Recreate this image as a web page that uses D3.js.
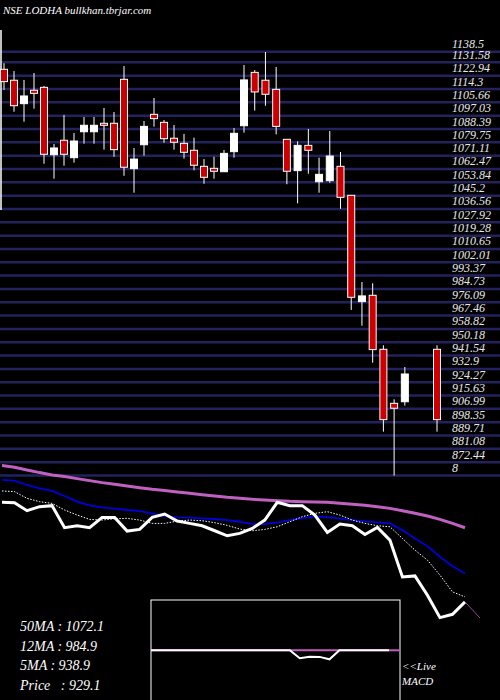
<!DOCTYPE html>
<html><head><meta charset="utf-8">
<script src="https://cdn.jsdelivr.net/npm/d3@7"></script>
<style>body{margin:0;background:#000}svg{display:block}</style>
</head><body><div id="chart"></div>
<script>
// candles: open, high, low, close (null = no trade that slot)
const opens  = [1127.1,1120.0,1104.8,1113.5,1115.4,1071.7,1081.1,1069.8,1086.6,1086.6,1092.1,1092.1,1120.6,1062.7,1078.2,1097.9,1092.7,1082.4,1079.1,1074.6,1064.2,1062.9,1060.7,1073.7,1090.5,1125.1,1120.0,1114.1,1081.7,1061.4,1077.8,1054.2,1054.9,1064.2,1045.4,976.5,980.6,945.6,910.6,911.6,null,null,945.6]
const highs  = [1131.0,1126.0,1120.2,1124.7,1116.3,1078.7,1097.5,1085.8,1096.2,1096.2,1102.0,1099.4,1129.2,1076.1,1093.6,1108.5,1094.2,1091.0,1085.2,1082.8,1068.9,1070.4,1074.8,1089.0,1129.9,1126.6,1138.3,1128.6,1081.9,1080.4,1088.4,1069.8,1087.1,1073.5,1045.6,989.2,988.4,948.2,913.2,934.1,null,null,948.2]
const lows   = [1113.7,1099.6,1093.1,1101.6,1065.9,1056.2,1064.6,1066.6,1078.9,1078.9,1075.0,1070.4,1058.1,1047.1,1071.1,1089.9,1079.5,1075.0,1069.2,1061.6,1052.9,1056.2,1060.7,1069.8,1086.0,1100.3,1103.5,1084.9,1052.6,1040.2,1059.4,1047.1,1053.5,1036.7,971.1,960.9,936.9,892.2,863.7,909.1,null,null,892.2]
const closes = [1119.1,1103.5,1109.8,1111.5,1072.0,1076.1,1072.0,1080.6,1090.8,1090.8,1090.8,1075.0,1063.6,1068.9,1090.1,1095.1,1082.1,1079.8,1073.3,1064.9,1057.1,1061.0,1072.6,1085.6,1120.2,1112.4,1110.9,1090.1,1061.0,1077.8,1074.6,1059.0,1070.9,1044.1,979.3,980.2,945.4,900.0,907.4,929.6,null,null,900.0]

const priceTicks = ["1138.5","1131.58","1122.94","1114.3","1105.66","1097.03","1088.39","1079.75","1071.11","1062.47","1053.84","1045.2","1036.56","1027.92","1019.28","1010.65","1002.01","993.37","984.73","976.09","967.46","958.82","950.18","941.54","932.9","924.27","915.63","906.99","898.35","889.71","881.08","872.44","863.8"]

// lower panel lines
const priceLine = [1119.6,1119.0,1105.8,1112.4,1114.1,1077.6,1080.9,1077.6,1094.7,1094.7,1072.1,1074.8,1094.7,1100.2,1088.6,1084.8,1080.9,1072.6,1064.3,1068.2,1076.5,1090.3,1119.6,1114.1,1114.1,1098.6,1069.8,1083.7,1080.9,1066.5,1078.1,1057.1,996.3,997.9,965.9,928.9,934.4,954.9]
const ma12 = [1156.6,1155.5,1148.3,1142.8,1138.4,1130.1,1120.7,1114.6,1111.3,1109.1,1106.9,1105.2,1101.4,1096.9,1094.7,1094.2,1093.1,1092.0,1090.3,1087.5,1083.7,1083.7,1086.4,1090.3,1093.6,1095.8,1095.3,1092.5,1090.3,1088.1,1086.4,1084.8,1073.7,1059.9,1047.2,1029.5,1014.0,1001.8]
const ma5 = [1138.4,1137.3,1126.2,1120.7,1117.9,1106.9,1098.6,1091.4,1090.3,1092.5,1093.1,1090.3,1084.8,1084.8,1088.6,1090.3,1089.2,1085.9,1081.5,1075.4,1072.6,1074.8,1079.2,1087.5,1095.8,1101.4,1104.1,1098.6,1090.3,1084.8,1080.9,1079.2,1059.9,1040.5,1024.0,999.1,971.4,963.2]
const ma50 = [1180.4,1177.6,1173.2,1168.8,1164.9,1162.2,1158.8,1155.5,1152.2,1149.4,1146.7,1143.9,1141.2,1139.0,1136.7,1134.5,1132.3,1130.1,1127.9,1126.2,1124.6,1123.5,1122.4,1121.3,1120.7,1120.1,1119.6,1117.9,1116.3,1114.6,1112.4,1109.6,1105.8,1101.4,1096.9,1091.4,1084.8,1077.6]
const tail = [954.9, 928.3]

const macd   = [0,0,0,0,0,0,0,0,0,0,0,0,0,0,0,-8,-6.4,-6.6,-9,0,0,0,0,0,0]
const signal = [0,0,0,0,0,0,0,0,0,0,0,0,0,0,0,0,0,0,0,0,0,0,0,0,0]

const legend = ["50MA : 1072.1","12MA : 984.9","5MA : 938.9","Price   : 929.1"]

const W = 500, H = 700
const svg = d3.select("#chart").append("svg").attr("width", W).attr("height", H)
svg.append("rect").attr("width", W).attr("height", H).attr("fill", "#000")

const font = "'Liberation Serif', 'DejaVu Serif', serif"

const y = d3.scaleLinear().domain([1122.94, 863.8]).range([75.7, 475.5])
const x = d3.scaleLinear().domain([0, 24, 42]).range([4, 244, 437])

// grid lines
svg.selectAll("line.grid").data(priceTicks).enter().append("line")
    .attr("x1", 0).attr("x2", W)
    .attr("y1", d => y(+d)).attr("y2", d => y(+d))
    .attr("stroke", "#22225c").attr("stroke-width", 2.5)

svg.selectAll("text.tick").data(priceTicks).enter().append("text")
    .attr("x", 452).attr("y", d => y(+d) - 3.5)
    .attr("fill", "#e8e8e8").attr("font-family", font).attr("font-style", "italic")
    .attr("font-size", 12)
    .text(d => d === "863.8" ? "8" : d)

svg.append("line").attr("x1", 1).attr("x2", 1).attr("y1", 30).attr("y2", 210)
    .attr("stroke", "#fff").attr("stroke-width", 1.5)

svg.append("text").attr("x", 3).attr("y", 14).attr("fill", "#fff")
    .attr("font-family", font).attr("font-style", "italic").attr("font-size", 11)
    .text("NSE LODHA bullkhan.tbrjar.com")

const candles = opens.map((o, i) => ({i, o, h: highs[i], l: lows[i], c: closes[i]})).filter(d => d.o != null)

svg.selectAll("line.wick").data(candles).enter().append("line")
    .attr("x1", d => x(d.i)).attr("x2", d => x(d.i))
    .attr("y1", d => y(d.h)).attr("y2", d => y(d.l))
    .attr("stroke", "#fff").attr("stroke-width", 1)

svg.selectAll("rect.body").data(candles).enter().append("rect")
    .attr("x", d => x(d.i) - 3.5).attr("width", 7)
    .attr("y", d => y(Math.max(d.o, d.c)))
    .attr("height", d => Math.max(1.5, Math.abs(y(d.o) - y(d.c))))
    .attr("fill", d => d.c < d.o ? "#cc0000" : "#fff")
    .attr("stroke", "#fff").attr("stroke-width", 1)

// lower moving-average panel
const ly = d3.scaleLinear().domain([1119, 929.6]).range([502.7, 617.2])
const lx = d3.scaleLinear().domain([0, priceLine.length - 1]).range([2, 465])
const line = d3.line().x((d, i) => lx(i)).y(d => ly(d))

svg.append("path").attr("d", line(ma50)).attr("fill", "none").attr("stroke", "#c060c0").attr("stroke-width", 3)
svg.append("path").attr("d", line(ma12)).attr("fill", "none").attr("stroke", "#0000dd").attr("stroke-width", 1.8)
svg.append("path").attr("d", line(ma5)).attr("fill", "none").attr("stroke", "#fff").attr("stroke-width", 1).attr("stroke-dasharray", "1.5,1.5")
svg.append("path").attr("d", line(priceLine)).attr("fill", "none").attr("stroke", "#fff").attr("stroke-width", 3)
svg.append("line").attr("x1", lx(priceLine.length - 1)).attr("x2", 480)
    .attr("y1", ly(tail[0])).attr("y2", ly(tail[1]))
    .attr("stroke", "#c060c0").attr("stroke-width", 0.8)

// MACD box
svg.append("rect").attr("x", 151).attr("y", 600).attr("width", 249).attr("height", 110)
    .attr("fill", "none").attr("stroke", "#fff").attr("stroke-width", 1)
const mx = d3.scaleLinear().domain([0, macd.length - 1]).range([151, 389])
const my = d3.scaleLinear().domain([-10, 10]).range([660.3, 640.3])
const mline = d3.line().x((d, i) => mx(i)).y(d => my(d))
svg.append("path").attr("d", mline(signal)).attr("fill", "none").attr("stroke", "#c060c0").attr("stroke-width", 2)
svg.append("path").attr("d", mline(macd)).attr("fill", "none").attr("stroke", "#fff").attr("stroke-width", 2)
svg.append("line").attr("x1", 389).attr("x2", 400).attr("y1", my(0)).attr("y2", my(0))
    .attr("stroke", "#c060c0").attr("stroke-width", 2)

svg.selectAll("text.legend").data(legend).enter().append("text")
    .attr("x", 20).attr("y", (d, i) => 631 + i * 19.5)
    .attr("fill", "#fff").attr("font-family", font).attr("font-style", "italic").attr("font-size", 14)
    .attr("xml:space", "preserve").style("white-space", "pre")
    .text(d => d)

svg.append("text").attr("x", 402).attr("y", 670).attr("fill", "#fff")
    .attr("font-family", font).attr("font-style", "italic").attr("font-size", 11).text("<<Live")
svg.append("text").attr("x", 402).attr("y", 685).attr("fill", "#fff")
    .attr("font-family", font).attr("font-style", "italic").attr("font-size", 11).text("MACD")
</script>
</body></html>
